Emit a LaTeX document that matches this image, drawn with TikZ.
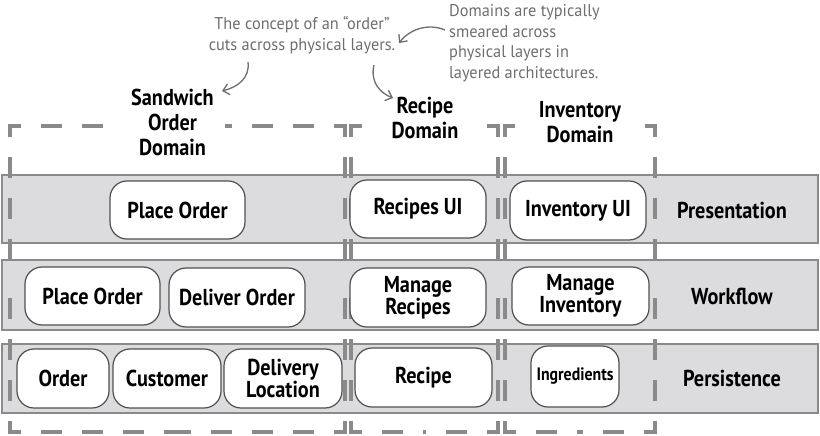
\documentclass[tikz,border=0pt]{standalone}
\usepackage{fontspec}
\usetikzlibrary{arrows.meta}
\newfontfamily\labfont{PT Sans}[FakeStretch=0.88]
\newfontfamily\notefont{PT Sans}[FakeStretch=0.96]
\definecolor{bandfill}{HTML}{DCDCDE}
\definecolor{bandline}{HTML}{8A8A8A}
\definecolor{nodeline}{HTML}{505050}
\definecolor{domline}{HTML}{8A8A8A}
\definecolor{notecol}{HTML}{6E6E6E}
\tikzset{
  band/.style={fill=bandfill,draw=bandline,line width=2pt},
  box/.style={draw=nodeline,fill=white,line width=1.2pt,rounded corners=17pt,
    inner sep=0pt,align=center,font=\labfont\bfseries\fontsize{23}{20}\selectfont},
  lab/.style={inner sep=0pt,align=center,font=\labfont\bfseries\fontsize{23}{25}\selectfont},
  domlab/.style={lab,fill=white},
  domc/.style={draw=domline,line width=3.5pt,line join=miter},
  doms/.style={draw=domline,line width=3.5pt,dash pattern=on 21pt off 20pt,dash phase=21pt},
  note/.style={inner sep=0pt,text=notecol,font=\notefont\fontsize{17}{20.5}\selectfont},
  notearrow/.style={draw=notecol,line width=1.3pt,-{Straight Barb[length=6pt,width=11pt]}}
}
\newcommand\dombox[4]{%
  \pgfmathsetmacro\dbmx{(#1+#3)/2}%
  \pgfmathsetmacro\dbmy{(#2+#4)/2}%
  \draw[domc] (#1,#2+11) -- (#1,#2) -- (#1+11,#2);
  \draw[domc] (#3-11,#2) -- (#3,#2) -- (#3,#2+11);
  \draw[domc] (#3,#4-11) -- (#3,#4) -- (#3-11,#4);
  \draw[domc] (#1+11,#4) -- (#1,#4) -- (#1,#4-11);
  \draw[doms] (#1+11,#2) -- (\dbmx,#2);
  \draw[doms] (#3-11,#2) -- (\dbmx,#2);
  \draw[doms] (#1+11,#4) -- (\dbmx,#4);
  \draw[doms] (#3-11,#4) -- (\dbmx,#4);
  \draw[doms] (#1,#2+11) -- (#1,\dbmy);
  \draw[doms] (#1,#4-11) -- (#1,\dbmy);
  \draw[doms] (#3,#2+11) -- (#3,\dbmy);
  \draw[doms] (#3,#4-11) -- (#3,\dbmy);
}
\begin{document}
\begin{tikzpicture}[x=1pt,y=-1pt]
\useasboundingbox (0,0) rectangle (820,436);
% layer bands
\draw[band] (2,175) rectangle (818,243);
\draw[band] (2,260) rectangle (818,330);
\draw[band] (2,344) rectangle (818,413);
% domain boxes
\dombox{10}{126}{345}{432}
\dombox{351}{126}{498}{432}
\dombox{505}{126}{655}{432}
% domain labels
\node[domlab,minimum width=105pt] (sandlab) at (172.5,122) {Sandwich\\Order\\Domain};
\node[domlab,minimum width=120pt] (reclab) at (425,117.5) {Recipe\\Domain};
\node[domlab,minimum width=130pt] (invlab) at (580,122.5) {Inventory\\Domain};
% presentation
\node[box,minimum width=135pt,minimum height=58pt] (po1) at (177.5,210) {Place Order};
\node[box,minimum width=136pt,minimum height=58pt] (rui) at (418,209) {Recipes UI};
\node[box,minimum width=136pt,minimum height=59pt] (iui) at (578,210.5) {Inventory UI};
\node[lab] (pres) at (732,210) {Presentation};
% workflow
\node[box,minimum width=135pt,minimum height=58pt] (po2) at (92.5,296) {Place Order};
\node[box,minimum width=136pt,minimum height=59pt] (del) at (237,297.5) {Deliver Order};
\node[box,minimum width=136pt,minimum height=59pt] (mr) at (418,297.5) {Manage\\Recipes};
\node[box,minimum width=137pt,minimum height=58pt] (mi) at (580.5,296) {Manage\\Inventory};
\node[lab] (work) at (732,296) {Workflow};
% persistence
\node[box,minimum width=92pt,minimum height=59pt] (ord) at (63,378.5) {Order};
\node[box,minimum width=108pt,minimum height=59pt] (cust) at (167,378.5) {Customer};
\node[box,minimum width=118pt,minimum height=59pt] (dl) at (283,378.5) {Delivery\\Location};
\node[box,minimum width=137pt,minimum height=59pt] (rec) at (423.5,377.5) {Recipe};
\node[box,minimum width=88pt,minimum height=61pt,font=\labfont\bfseries\fontsize{18}{20}\selectfont] (ing) at (575,376.5) {Ingredients};
\node[lab] (pers) at (732,378) {Persistence};
% annotations
\node[note,align=center] (n1) at (302,35) {The concept of an “order”\\cuts across physical layers.};
\node[note,align=left,anchor=west] (n2) at (449,43) {Domains are typically\\smeared across\\physical layers in\\layered architectures.};
\coordinate (a1s) at (248,62);
\coordinate (a1e) at (222,91);
\coordinate (a2s) at (374,65);
\coordinate (a2e) at (393,98);
\coordinate (a3s) at (445,30);
\coordinate (a3e) at (399,43);
\draw[notearrow] (a1s) .. controls (250,78) and (238,87) .. (a1e);
\draw[notearrow] (a2s) .. controls (370,82) and (380,93) .. (a2e);
\draw[notearrow] (a3s) .. controls (428,23) and (410,29) .. (a3e);
\end{tikzpicture}
\end{document}
